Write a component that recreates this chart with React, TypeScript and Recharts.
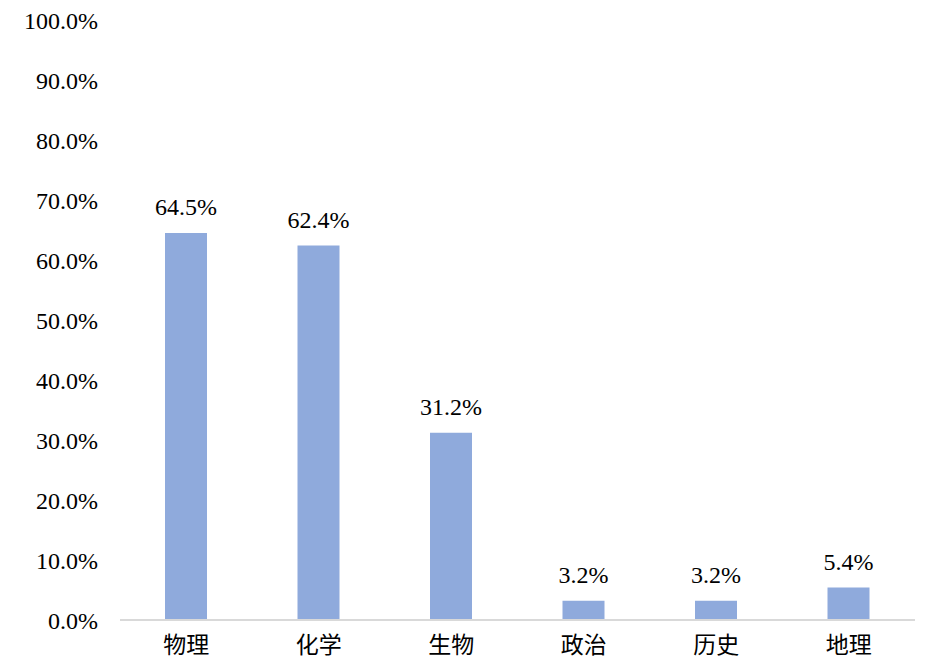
import { BarChart, Bar, XAxis, YAxis, LabelList } from "recharts";

const subjects = ["物理", "化学", "生物", "政治", "历史", "地理"];
const shares = [64.5, 62.4, 31.2, 3.2, 3.2, 5.4];
const yTicks = [0, 10, 20, 30, 40, 50, 60, 70, 80, 90, 100];

const data = subjects.map((name, i) => ({ name, value: shares[i] }));

const font = "'Liberation Serif', 'Times New Roman', serif";

export default function App() {
    return (
        <div style={{ position: "absolute", left: 0, top: 0, background: "#fff" }}>
            <BarChart
                width={934}
                height={665}
                data={data}
                margin={{ top: 20, right: 19, bottom: 0, left: 0 }}
                barSize={42}
            >
                <XAxis
                    dataKey="name"
                    height={45}
                    tickLine={false}
                    tickSize={0}
                    tickMargin={17}
                    axisLine={{ stroke: "#d9d9d9", strokeWidth: 2 }}
                    tick={{ fill: "#000", fontSize: 23, fontFamily: "'Noto Sans CJK SC', sans-serif" }}
                />
                <YAxis
                    width={120}
                    domain={[0, 100]}
                    ticks={yTicks}
                    interval={0}
                    axisLine={false}
                    tickLine={false}
                    tickSize={0}
                    tickMargin={22}
                    tickFormatter={(v: number) => `${v.toFixed(1)}%`}
                    tick={{ fill: "#000", fontSize: 24, fontFamily: font }}
                />
                <Bar dataKey="value" fill="#8faadc" isAnimationActive={false}>
                    <LabelList
                        dataKey="value"
                        position="top"
                        offset={18}
                        formatter={(v: number) => `${v.toFixed(1)}%`}
                        style={{ fill: "#000", fontSize: 24, fontFamily: font }}
                    />
                </Bar>
            </BarChart>
        </div>
    );
}
